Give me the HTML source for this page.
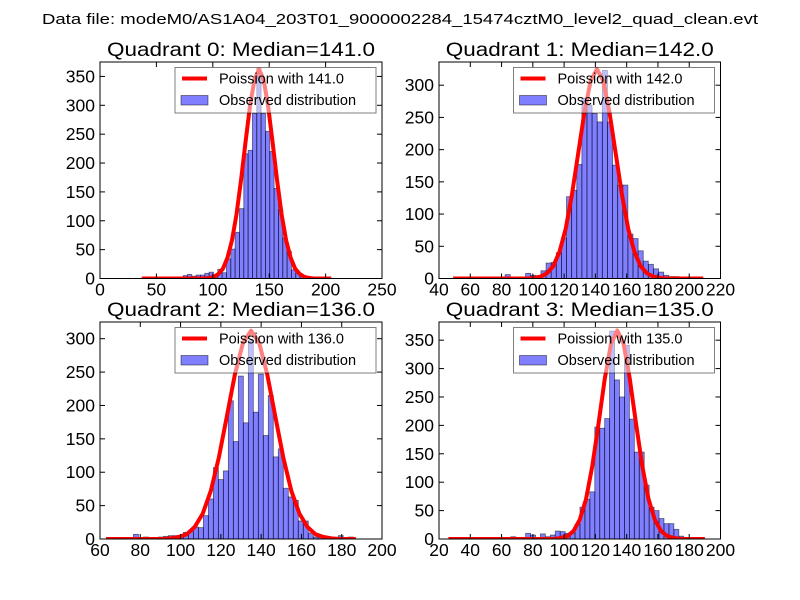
<!DOCTYPE html>
<html>
<head>
<meta charset="utf-8">
<style>
html,body{margin:0;padding:0;background:#fff;}
svg{display:block;font-family:"Liberation Sans","DejaVu Sans",sans-serif;}
</style>
</head>
<body>
<svg id="fig" width="800" height="600" viewBox="0 0 800 600" xmlns="http://www.w3.org/2000/svg">
<rect width="800" height="600" fill="#fff"/>
<text x="400" y="24" text-anchor="middle" font-size="15" textLength="716" lengthAdjust="spacingAndGlyphs">Data file: modeM0/AS1A04_203T01_9000002284_15474cztM0_level2_quad_clean.evt</text>
</svg>
<script>
// ---- data ----
const titles = ["Quadrant 0: Median=141.0","Quadrant 1: Median=142.0","Quadrant 2: Median=136.0","Quadrant 3: Median=135.0"];
const legendLabels = ["Poission with 141.0","Poission with 142.0","Poission with 136.0","Poission with 135.0"];
const obsLabel = "Observed distribution";

const q0BinStart = 73.7, q0BinWidth = 3.84;
const q0Counts = [5,7,4,6,6,9,11,5,16,10,34,51,80,121,216,222,286,364,286,255,220,156,119,70,47,15,9,3,2,1];
const q1BinStart = 82.3, q1BinWidth = 3.27;
const q1Counts = [6,0,2,1,8,5,2,12,24,25,40,63,127,137,177,280,269,256,243,323,243,176,145,145,69,62,43,27,22,15,10,5,3,3,2];
const q2BinStart = 76.6, q2BinWidth = 2.48;
const q2Counts = [7,0,3,0,0,3,4,5,5,5,10,11,18,17,35,60,107,89,102,207,146,244,174,297,190,247,155,215,123,135,76,63,58,27,27,9,3,3,0,0,0,5,0,3];
const q3BinStart = 65.9, q3BinWidth = 3.16;
const q3Counts = [4,0,0,10,7,0,9,4,7,14,13,10,10,26,56,70,83,197,195,212,366,280,250,341,211,153,153,95,56,50,36,27,27,17,5];

const q0CurveX = [37,41,45,49,53,57,61,65,69,73,77,81,85,89,93,97,101,105,109,113,117,121,125,129,133,137,141,145,149,153,157,161,165,169,173,177,181,185,189,193,197,201,205];
const q0CurveY = [0,0,0,0,0,0,0,0,0,0,0,0,0,0,0,1,3,8,17,36,66,111,170,236,299,345,362,345,299,236,170,111,66,36,17,8,3,1,0,0,0,0,0];
const q1CurveX = [49,53,57,61,65,69,73,77,81,85,89,93,97,101,105,109,113,117,121,125,129,133,137,141,145,149,153,157,161,165,169,173,177,181,185,189,193,197,201,205,209];
const q1CurveY = [0,0,0,0,0,0,0,0,0,0,0,0,0,1,3,8,19,41,77,130,194,258,307,325,307,258,194,130,77,41,19,8,3,1,0,0,0,0,0,0,0];
const q2CurveX = [63,67,71,75,79,83,87,91,95,99,103,107,111,115,119,123,127,131,135,139,143,147,151,155,159,163,167,171,175,179,183,187];
const q2CurveY = [0,0,0,0,0,0,0,0,1,3,7,18,38,72,122,184,247,294,312,294,247,184,122,72,38,18,7,3,1,0,0,0];
const q3CurveX = [26,30,34,38,42,46,50,54,58,62,66,70,74,78,82,86,90,94,98,102,106,110,114,118,122,126,130,134,138,142,146,150,154,158,162,166,170,174,178,182,186,190];
const q3CurveY = [0,0,0,0,0,0,0,0,0,0,0,0,0,0,0,0,0,0,2,5,14,34,70,128,203,282,344,367,344,282,203,128,70,34,14,5,2,0,0,0,0,0];

const q0XTicks = [0,50,100,150,200,250];
const q1XTicks = [40,60,80,100,120,140,160,180,200,220];
const q2XTicks = [60,80,100,120,140,160,180,200];
const q3XTicks = [20,40,60,80,100,120,140,160,180,200];
const q0YTicks = [0,50,100,150,200,250,300,350];
const q1YTicks = [0,50,100,150,200,250,300];
const q2YTicks = [0,50,100,150,200,250,300];
const q3YTicks = [0,50,100,150,200,250,300,350];

const xDomains = [[0,250],[40,220],[60,200],[20,200]];
const yMaxes = [375,336,325,382];

// ---- layout ----
const layout = [
  {x0:100,x1:382,y0:62,y1:278.5},
  {x0:439,x1:720.5,y0:62,y1:278.5},
  {x0:100,x1:382,y0:322,y1:539},
  {x0:439,x1:720.5,y0:322,y1:539}
];
const binStarts=[q0BinStart,q1BinStart,q2BinStart,q3BinStart];
const binWidths=[q0BinWidth,q1BinWidth,q2BinWidth,q3BinWidth];
const countsAll=[q0Counts,q1Counts,q2Counts,q3Counts];
const curveXs=[q0CurveX,q1CurveX,q2CurveX,q3CurveX];
const curveYs=[q0CurveY,q1CurveY,q2CurveY,q3CurveY];
const xTicksAll=[q0XTicks,q1XTicks,q2XTicks,q3XTicks];
const yTicksAll=[q0YTicks,q1YTicks,q2YTicks,q3YTicks];

const NS="http://www.w3.org/2000/svg";
const svg=document.getElementById('fig');
function mk(tag,attrs,parent){const e=document.createElementNS(NS,tag);for(const k in attrs)e.setAttribute(k,attrs[k]);(parent||svg).appendChild(e);return e;}

const defs=mk('defs',{});
for(let q=0;q<4;q++){
  const L=layout[q];
  const cp=mk('clipPath',{id:'clip'+q},defs);
  mk('rect',{x:L.x0,y:L.y0,width:L.x1-L.x0,height:L.y1-L.y0},cp);
}

for(let q=0;q<4;q++){
  const L=layout[q];
  const xd=xDomains[q], ym=yMaxes[q];
  const sx=v=>L.x0+(v-xd[0])/(xd[1]-xd[0])*(L.x1-L.x0);
  const sy=v=>L.y1-v/ym*(L.y1-L.y0);
  const g=mk('g',{});
  
  

  const bars=mk('g',{'clip-path':'url(#clip'+q+')'},g);
  
  
  const counts=countsAll[q];
  for(let i=0;i<counts.length;i++){
    if(counts[i]<=0) continue;
    const a=binStarts[q]+i*binWidths[q], b=a+binWidths[q];
    const r=mk('rect',{x:sx(a),y:sy(counts[i]),width:sx(b)-sx(a),height:sy(0)-sy(counts[i]),fill:'rgba(0,0,255,0.5)',stroke:'rgba(0,0,0,0.55)','stroke-width':0.8},bars);
    
    
  }
  const cx=curveXs[q], cy=curveYs[q];
  let d='';
  for(let i=0;i<cx.length;i++) d+=(i?'L':'M')+sx(cx[i]).toFixed(2)+','+sy(cy[i]).toFixed(2);
  const p=mk('path',{d:d,fill:'none',stroke:'#ff0000','stroke-width':4,'stroke-linejoin':'round','clip-path':'url(#clip'+q+')'},g);
  
  

  const lg=mk('g',{},g);
  
  
  const lx=L.x1-207, ly=L.y0+5.5;
  mk('rect',{x:lx,y:ly,width:201,height:45.5,fill:'#fff','fill-opacity':0.5,stroke:'#000','stroke-opacity':0.5,'stroke-width':1},lg);
  const l1=mk('line',{x1:lx+7,y1:ly+11,x2:lx+32,y2:ly+11,stroke:'#ff0000','stroke-width':4},lg);
  
  
  const t1=mk('text',{x:lx+44,y:ly+16,'font-size':14.5},lg); t1.textContent=legendLabels[q];
  
  
  const r2=mk('rect',{x:lx+6,y:ly+28,width:27,height:9.5,fill:'rgba(0,0,255,0.5)',stroke:'rgba(0,0,0,0.55)','stroke-width':0.8},lg);
  
  
  const t2=mk('text',{x:lx+44,y:ly+37.5,'font-size':14.5},lg); t2.textContent=obsLabel;
  
  

  const fr=mk('rect',{x:L.x0,y:L.y0,width:L.x1-L.x0,height:L.y1-L.y0,fill:'none',stroke:'#000','stroke-width':1},g);
  
  

  const tl=5;
  xTicksAll[q].forEach(v=>{
    const x=sx(v);
    mk('line',{x1:x,y1:L.y1,x2:x,y2:L.y1-tl,stroke:'#000'},g);
    mk('line',{x1:x,y1:L.y0,x2:x,y2:L.y0+tl,stroke:'#000'},g);
    const t=mk('text',{x:x,y:L.y1+17,'text-anchor':'middle','font-size':17.5},g);
    t.textContent=v;
    
    
  });
  yTicksAll[q].forEach(v=>{
    const y=sy(v);
    mk('line',{x1:L.x0,y1:y,x2:L.x0+tl,y2:y,stroke:'#000'},g);
    mk('line',{x1:L.x1,y1:y,x2:L.x1-tl,y2:y,stroke:'#000'},g);
    const t=mk('text',{x:L.x0-5,y:y+6,'text-anchor':'end','font-size':17.5},g);
    t.textContent=v;
    
    
  });
  const tt=mk('text',{x:(L.x0+L.x1)/2,y:L.y0-6,'text-anchor':'middle','font-size':19.5,textLength:268,lengthAdjust:'spacingAndGlyphs'},g);
  tt.textContent=titles[q];
  
  
}
</script>
</body>
</html>
